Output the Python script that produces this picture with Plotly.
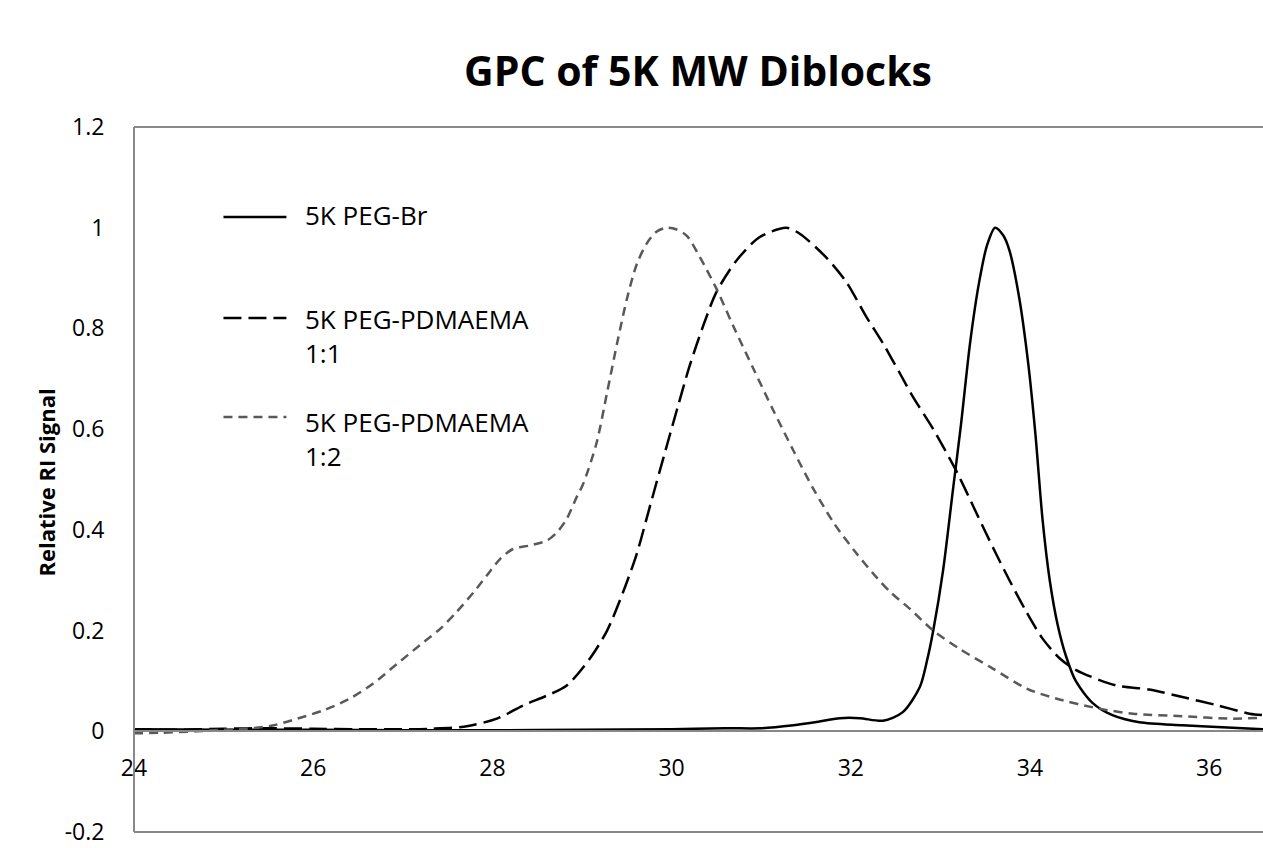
import plotly.graph_objects as go

# ---- data ----
x_br = [24.0, 25.0, 26.0, 27.0, 28.0, 29.0, 30.0, 30.6, 31.0, 31.36, 31.6, 31.88, 32.1, 32.36,
        32.58, 32.77, 32.85, 32.92, 33.03, 33.14, 33.23, 33.33, 33.43, 33.52, 33.61, 33.70,
        33.77, 33.88, 33.98, 34.06, 34.14, 34.22, 34.31, 34.40, 34.51, 34.70, 34.92, 35.22,
        35.70, 36.26, 36.6]
y_br = [0.004, 0.003, 0.003, 0.002, 0.002, 0.003, 0.004, 0.006, 0.006, 0.012, 0.018, 0.026,
        0.026, 0.021, 0.038, 0.088, 0.14, 0.2, 0.32, 0.48, 0.61, 0.77, 0.89, 0.965, 1.0, 0.985,
        0.955, 0.86, 0.73, 0.59, 0.42, 0.30, 0.21, 0.15, 0.1, 0.056, 0.032, 0.018, 0.012,
        0.007, 0.004]

x_11 = [24.0, 24.5, 25.0, 25.5, 26.0, 26.5, 27.0, 27.31, 27.68, 28.05, 28.35, 28.61, 28.83,
        29.09, 29.28, 29.46, 29.61, 29.76, 29.91, 30.06, 30.20, 30.35, 30.50, 30.72, 30.98,
        31.28, 31.43, 31.73, 31.95, 32.17, 32.36, 32.55, 32.69, 32.92, 33.18, 33.40, 33.60,
        33.77, 33.96, 34.14, 34.33, 34.48, 34.59, 34.96, 35.33, 35.70, 36.08, 36.45, 36.6]
y_11 = [0.004, 0.003, 0.005, 0.006, 0.005, 0.004, 0.004, 0.005, 0.009, 0.025, 0.052, 0.071,
        0.091, 0.145, 0.2, 0.277, 0.352, 0.448, 0.544, 0.639, 0.725, 0.804, 0.872, 0.934, 0.981,
        1.0, 0.988, 0.94, 0.892, 0.824, 0.77, 0.71, 0.665, 0.6, 0.516, 0.434, 0.36, 0.30, 0.237,
        0.184, 0.145, 0.125, 0.115, 0.091, 0.083, 0.068, 0.052, 0.035, 0.032]

x_12 = [24.0, 24.3, 24.7, 25.0, 25.26, 25.56, 25.82, 26.12, 26.41, 26.67, 26.93, 27.19, 27.42,
        27.60, 27.79, 27.94, 28.09, 28.23, 28.42, 28.61, 28.72, 28.83, 28.94, 29.01, 29.16,
        29.28, 29.39, 29.50, 29.61, 29.72, 29.83, 29.94, 30.05, 30.17, 30.32, 30.50, 30.69,
        30.91, 31.13, 31.36, 31.58, 31.82, 32.06, 32.29, 32.45, 32.66, 32.92, 33.21, 33.59,
        33.96, 34.29, 34.77, 35.15, 35.70, 36.26, 36.6]
y_12 = [-0.004, -0.003, 0.0, 0.003, 0.005, 0.012, 0.025, 0.042, 0.065, 0.095, 0.133, 0.171,
        0.204, 0.237, 0.276, 0.31, 0.343, 0.362, 0.369, 0.379, 0.395, 0.422, 0.465, 0.49, 0.571,
        0.673, 0.769, 0.858, 0.927, 0.968, 0.992, 1.0, 0.997, 0.984, 0.94, 0.879, 0.804, 0.721,
        0.639, 0.557, 0.482, 0.411, 0.354, 0.305, 0.275, 0.243, 0.2, 0.164, 0.124, 0.085, 0.065,
        0.045, 0.035, 0.03, 0.025, 0.027]

series_names = ["5K PEG-Br", "5K PEG-PDMAEMA<br>1:1", "5K PEG-PDMAEMA<br>1:2"]
x_ticks = [24, 26, 28, 30, 32, 34, 36]
y_ticks = [-0.2, 0, 0.2, 0.4, 0.6, 0.8, 1, 1.2]
x_range = [24, 36.6]
y_range = [-0.2, 1.2]

FONT = "Open Sans"
styles = [dict(color="#000000", dash="solid", width=2.5),
          dict(color="#000000", dash="18px,7px", width=2.5),
          dict(color="#595959", dash="9px,6px", width=2.5)]

fig = go.Figure()
for xs, ys, nm, st in zip([x_br, x_11, x_12], [y_br, y_11, y_12], series_names, styles):
    fig.add_trace(go.Scatter(x=xs, y=ys, mode="lines", name=nm, line=st,
                             line_shape="spline", line_smoothing=0.8, showlegend=False))

W, H = 1263, 848
L, R, T, B = 133.5, 0, 127, 16
pw, ph = W - L - R, H - T - B

fig.update_layout(
    width=W, height=H, autosize=False,
    margin=dict(l=L, r=R, t=T, b=B),
    paper_bgcolor="white", plot_bgcolor="white",
    font=dict(family=FONT, color="#000000"),
    title=dict(text="<b>GPC of 5K MW Diblocks</b>", x=698 / W, xref="container",
               xanchor="center", y=1 - 72 / H, yref="container", yanchor="middle",
               font=dict(family=FONT, size=41, color="#000000")),
    xaxis=dict(range=x_range, tickvals=x_ticks, ticktext=[str(v) for v in x_ticks],
               showgrid=False, zeroline=False, showline=True, linecolor="#888888",
               linewidth=1.5, anchor="free",
               position=(0 - y_range[0]) / (y_range[1] - y_range[0]),
               ticks="outside", ticklen=0, ticklabelstandoff=16,
               ticklabeloverflow="allow",
               tickfont=dict(family=FONT, size=23, color="#000000")),
    yaxis=dict(range=y_range, tickvals=y_ticks,
               ticktext=["-0.2", "0", "0.2", "0.4", "0.6", "0.8", "1", "1.2"],
               showgrid=False, zeroline=False, showline=False,
               ticks="outside", ticklen=0, ticklabelstandoff=24,
               ticklabeloverflow="allow", automargin=False,
               tickfont=dict(family=FONT, size=23, color="#000000")),
)

# plot area border (left, top, bottom; right edge is cut off in the reference)
border = dict(color="#888888", width=2)
fig.add_shape(type="line", xref="paper", yref="paper", x0=0, x1=0, y0=0, y1=1, line=border)
fig.add_shape(type="line", xref="paper", yref="paper", x0=0, x1=1, y0=1, y1=1, line=border)
fig.add_shape(type="line", xref="paper", yref="paper", x0=0, x1=1, y0=0, y1=0, line=border)

# y-axis title
fig.add_annotation(text="<b>Relative RI Signal</b>", textangle=-90, showarrow=False,
                   xref="paper", yref="paper", x=(45 - L) / pw, y=1 - (483 - T) / ph,
                   xanchor="center", yanchor="middle",
                   font=dict(family=FONT, size=22, color="#000000"))

# legend (drawn manually to match sample length)
def px_x(p):
    return (p - L) / pw

def px_y(p):
    return 1 - (p - T) / ph

legend_rows = [(217, 216), (318, 320), (417, 423)]
for (ly, ty), nm, st in zip(legend_rows, series_names, styles):
    fig.add_shape(type="line", xref="paper", yref="paper", x0=px_x(223), x1=px_x(286),
                  y0=px_y(ly), y1=px_y(ly),
                  line=dict(color=st["color"], dash=st["dash"], width=st["width"]))
    fig.add_annotation(text=nm, showarrow=False, xref="paper", yref="paper",
                       x=px_x(303), y=px_y(ty - 21), xanchor="left", yanchor="top",
                       align="left",
                       font=dict(family=FONT, size=26, color="#000000"))

fig.write_html("out.html", config={"displayModeBar": False},
               post_script="document.body.style.margin='0';")
